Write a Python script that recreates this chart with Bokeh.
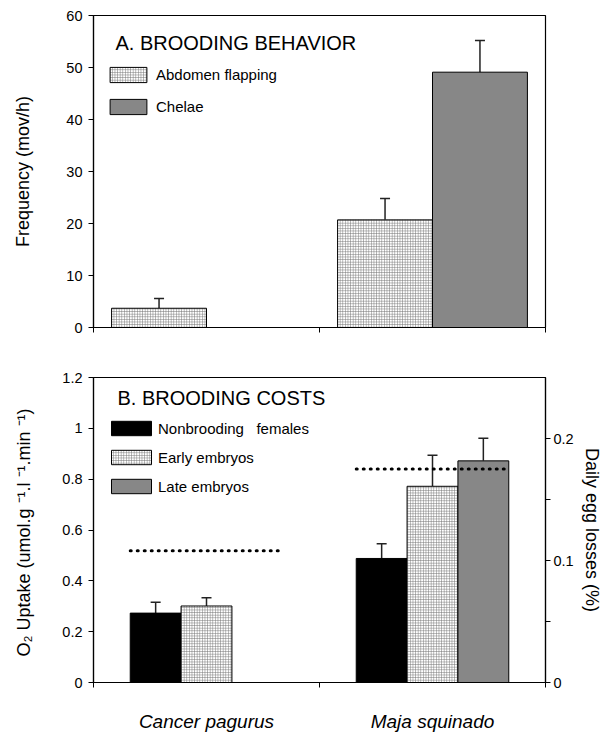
import math
from bokeh.plotting import figure
from bokeh.models import (Range1d, LinearAxis, FixedTicker, CustomJSTickFormatter,
                          ColumnDataSource, Whisker, TeeHead, Legend, LegendItem, Label)
from bokeh.layouts import column
from bokeh.embed import file_html
from bokeh.resources import INLINE

FONT = "Liberation Sans"

# ---------------- data ----------------
species = ["Cancer pagurus", "Maja squinado"]

# Panel A: brooding behavior (mov/h)
abdomen_flapping = [3.7, 20.7]
abdomen_flapping_se = [1.9, 4.1]
chelae = [0.0, 49.1]
chelae_se = [0.0, 6.1]

# Panel B: brooding costs (O2 uptake) and daily egg losses (%)
nonbrooding = [0.273, 0.488]
nonbrooding_se = [0.043, 0.058]
early_embryos = [0.301, 0.772]
early_embryos_se = [0.032, 0.122]
late_embryos = [float("nan"), 0.872]
late_embryos_se = [float("nan"), 0.089]
daily_egg_losses = [0.108, 0.175]

freq_ticks = [0, 10, 20, 30, 40, 50, 60]
o2_ticks = [0, 0.2, 0.4, 0.6, 0.8, 1.0, 1.2]
egg_ticks = [0, 0.1, 0.2]
egg_minor_ticks = [0.05, 0.15]

# ---------------- helpers ----------------
centers = [2 * i + 1 for i in range(len(species))]
num_fmt = CustomJSTickFormatter(code="return String(Math.round(tick*1000)/1000);")

W = 604
BL = 93
BR = 56

GREY = "#878787"
HATCH = dict(fill_color="white", hatch_pattern="+", hatch_scale=2.6,
             hatch_weight=0.6, hatch_color="#777777")


def make_fig(height, y_range, btop, bbottom):
    p = figure(width=W, height=height, x_range=Range1d(0, 4), y_range=y_range,
               output_backend="svg", toolbar_location=None, tools="",
               min_border_left=BL, min_border_right=BR,
               min_border_top=btop, min_border_bottom=bbottom)
    p.grid.visible = False
    p.outline_line_color = "black"
    p.outline_line_width = 1.2
    p.background_fill_color = "white"
    p.border_fill_color = "white"
    return p


def style_axis(ax, size="14.5px"):
    ax.axis_line_color = "black"
    ax.axis_line_width = 1.2
    ax.major_tick_line_color = "black"
    ax.minor_tick_line_color = "black"
    ax.major_tick_in = 0
    ax.minor_tick_in = 0
    ax.major_tick_out = 5
    ax.minor_tick_out = 5
    ax.major_label_text_font = FONT
    ax.major_label_text_font_size = size
    ax.major_label_text_color = "black"
    ax.axis_label_text_font = FONT
    ax.axis_label_text_font_size = "18px"
    ax.axis_label_text_font_style = "normal"
    ax.axis_label_text_color = "black"


def add_err(p, xs, vals, ses, **kw):
    pts = [(x, v, v + s) for x, v, s in zip(xs, vals, ses)
           if s and not math.isnan(s) and not math.isnan(v)]
    src = ColumnDataSource(dict(x=[a for a, _, _ in pts],
                                lo=[b for _, b, _ in pts],
                                hi=[c for _, _, c in pts]))
    w = Whisker(source=src, base="x", lower="lo", upper="hi", dimension="height",
                line_color="#222222", line_width=1.5, lower_head=None,
                upper_head=TeeHead(size=10, line_color="#222222", line_width=1.5), **kw)
    p.add_layout(w)


# ---------------- Panel A ----------------
p1 = make_fig(353, Range1d(0, 60), 15, 26)
style_axis(p1.yaxis[0])
p1.yaxis[0].ticker = FixedTicker(ticks=freq_ticks)
p1.yaxis[0].formatter = num_fmt
p1.yaxis[0].major_label_standoff = 6
p1.yaxis[0].axis_label = "Frequency (mov/h)"
p1.yaxis[0].axis_label_standoff = 30
style_axis(p1.xaxis[0])
p1.xaxis[0].ticker = FixedTicker(ticks=[], minor_ticks=[0, 2, 4])

wA = 0.84
offA = [-0.42, 0.42]
srcA1 = ColumnDataSource(dict(x=[c + offA[0] for c in centers], top=abdomen_flapping))
srcA2 = ColumnDataSource(dict(x=[c + offA[1] for c in centers], top=chelae))
rA1 = p1.vbar(x="x", top="top", width=wA, source=srcA1, line_color="black", line_width=1, **HATCH)
rA2 = p1.vbar(x="x", top="top", width=wA, source=srcA2, fill_color=GREY,
              line_color="black", line_width=1)
add_err(p1, srcA1.data["x"], abdomen_flapping, abdomen_flapping_se)
add_err(p1, srcA2.data["x"], chelae, chelae_se)

p1.add_layout(Label(x=22, y=285, x_units="screen", y_units="screen",
                    text="A. BROODING BEHAVIOR", text_font=FONT, text_font_size="20px",
                    text_baseline="middle", text_color="black"))
legA = Legend(items=[LegendItem(label="Abdomen flapping", renderers=[rA1]),
                     LegendItem(label="Chelae", renderers=[rA2])],
              location=(12, 211), orientation="vertical",
              glyph_width=46, glyph_height=19, label_height=19, spacing=13,
              label_standoff=5, padding=0, margin=0,
              border_line_alpha=0, background_fill_alpha=0,
              label_text_font=FONT, label_text_font_size="15px", label_text_color="black")
p1.add_layout(legA)

# ---------------- Panel B ----------------
p2 = make_fig(381, Range1d(0, 1.2), 24, 47)
style_axis(p2.yaxis[0])
p2.yaxis[0].ticker = FixedTicker(ticks=o2_ticks)
p2.yaxis[0].formatter = num_fmt
p2.yaxis[0].major_label_standoff = 6
p2.yaxis[0].axis_label = "O\u2082 Uptake (umol.g \u207b\u00b9.l  \u207b\u00b9.min \u207b\u00b9)"
p2.yaxis[0].axis_label_standoff = 25

p2.extra_y_ranges = {"egg": Range1d(0, 0.25)}
ax_r = LinearAxis(y_range_name="egg")
style_axis(ax_r)
ax_r.ticker = FixedTicker(ticks=egg_ticks, minor_ticks=egg_minor_ticks)
ax_r.formatter = num_fmt
ax_r.major_label_standoff = 3
ax_r.axis_label = "Daily egg losses (%)"
ax_r.axis_label_standoff = 5
p2.add_layout(ax_r, "right")

style_axis(p2.xaxis[0], size="19px")
p2.xaxis[0].ticker = FixedTicker(ticks=centers, minor_ticks=[0, 2, 4])
p2.xaxis[0].major_tick_out = 0
p2.xaxis[0].major_label_text_font_style = "italic"
p2.xaxis[0].major_label_standoff = 23
p2.xaxis[0].formatter = CustomJSTickFormatter(args=dict(names=species),
                                              code="return names[Math.round((tick-1)/2)];")

wB = 0.45
offB = [-0.45, 0.0, 0.45]
srcB1 = ColumnDataSource(dict(x=[c + offB[0] for c in centers], top=nonbrooding))
srcB2 = ColumnDataSource(dict(x=[c + offB[1] for c in centers], top=early_embryos))
srcB3 = ColumnDataSource(dict(x=[c + offB[2] for c in centers], top=late_embryos))
rB1 = p2.vbar(x="x", top="top", width=wB, source=srcB1, fill_color="black",
              line_color="black", line_width=1)
rB2 = p2.vbar(x="x", top="top", width=wB, source=srcB2, line_color="black", line_width=1, **HATCH)
rB3 = p2.vbar(x="x", top="top", width=wB, source=srcB3, fill_color=GREY,
              line_color="black", line_width=1)
add_err(p2, srcB1.data["x"], nonbrooding, nonbrooding_se)
add_err(p2, srcB2.data["x"], early_embryos, early_embryos_se)
add_err(p2, srcB3.data["x"], late_embryos, late_embryos_se)

segsrc = ColumnDataSource(dict(x0=[c - 0.675 for c in centers], x1=[c + 0.675 for c in centers],
                               y=daily_egg_losses))
p2.segment(x0="x0", y0="y", x1="x1", y1="y", source=segsrc, y_range_name="egg",
           line_color="black", line_width=3, line_dash="1 6", line_cap="round")

p2.add_layout(Label(x=24, y=285, x_units="screen", y_units="screen",
                    text="B. BROODING COSTS", text_font=FONT, text_font_size="20px",
                    text_baseline="middle", text_color="black"))
legB = Legend(items=[LegendItem(label="Nonbrooding   females", renderers=[rB1]),
                     LegendItem(label="Early embryos", renderers=[rB2]),
                     LegendItem(label="Late embryos", renderers=[rB3])],
              location=(13, 187), orientation="vertical",
              glyph_width=50, glyph_height=18, label_height=18, spacing=11,
              label_standoff=2, padding=0, margin=0,
              border_line_alpha=0, background_fill_alpha=0,
              label_text_font=FONT, label_text_font_size="15px", label_text_color="black")
p2.add_layout(legB)

layout = column(p1, p2, spacing=0)
open("out.html", "w").write(file_html(layout, INLINE))
